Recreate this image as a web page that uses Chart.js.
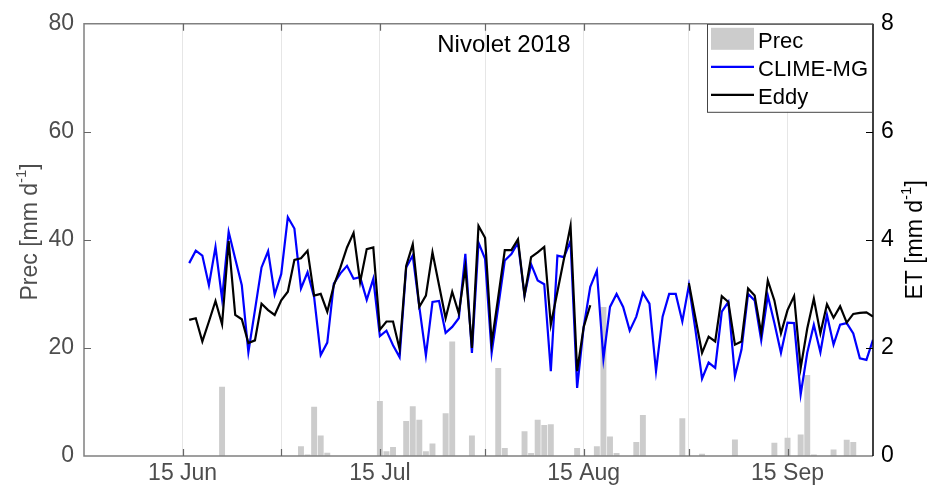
<!DOCTYPE html>
<html>
<head>
<meta charset="utf-8">
<script src="https://cdn.jsdelivr.net/npm/chart.js@4.4.0/dist/chart.umd.min.js"></script>
<style>
body { margin: 0; background: #fff; }
#wrap { width: 940px; height: 495px; }
</style>
</head>
<body>
<div id="wrap"><canvas id="myChart" width="940" height="495"></canvas></div>
<script>
// days are day-of-year 2018 (151 = 31 May)
var tickDays = [166, 181, 196, 212, 227, 243, 258];
var tickText = ['15 Jun', '', '15 Jul', '', '15 Aug', '', '15 Sep'];

// daily precipitation, mm/d (only rainy days)
var precDays = [172,184,185,186,187,188,196,197,198,200,201,202,203,204,206,207,210,214,215,218,219,220,221,222,226,229,230,231,232,235,236,242,245,250,256,258,260,261,262,265,267,268];
var precVals = [12.8,1.8,0.3,9.1,3.8,0.6,10.2,0.9,1.65,6.5,9.2,6.7,0.9,2.3,7.9,21.2,3.8,16.3,1.5,4.6,0.55,6.7,5.75,5.9,1.5,1.8,27.6,3.6,0.55,2.6,7.6,7.0,0.4,3.05,2.45,3.4,4.0,15.0,0.3,1.2,3.0,2.6];

// ET, mm/d, one value per day from day 167 (16 Jun) to 271 (28 Sep)
var etStart = 167;
var climeMG = [
  3.57,3.80,3.71,3.16,3.87,2.91,4.15,3.65,3.16,1.92,
  2.70,3.49,3.79,2.99,3.37,4.42,4.21,3.10,3.40,2.94,
  1.87,2.10,3.19,3.38,3.52,3.28,3.31,2.89,3.28,2.22,
  2.32,2.05,1.83,3.49,3.71,2.76,1.86,2.85,2.87,2.28,
  2.39,2.55,3.74,1.91,3.95,3.65,1.91,2.76,3.62,3.74,
  3.95,2.97,3.55,3.25,3.18,1.57,3.71,3.68,3.98,1.26,
  2.39,3.13,3.43,1.80,2.76,3.00,2.76,2.32,2.58,3.02,
  2.82,1.57,2.58,3.00,3.00,2.49,3.16,2.33,1.43,1.73,
  1.63,2.67,2.85,1.48,1.97,3.00,2.88,2.14,2.97,2.46,
  1.91,2.47,2.46,1.14,1.91,2.43,1.92,2.61,2.06,2.43,
  2.46,2.27,1.81,1.78,2.15
];
var eddy = [
  2.52,2.55,2.12,2.49,2.87,2.44,3.98,2.61,2.53,2.09,
  2.14,2.82,2.70,2.61,2.88,3.04,3.63,3.66,3.80,2.97,
  3.00,2.67,3.16,3.49,3.86,4.13,3.22,3.83,3.86,2.34,
  2.49,2.49,1.98,3.52,3.92,2.76,2.97,3.77,3.16,2.55,
  3.04,2.64,3.49,2.00,4.26,4.04,2.09,2.94,3.81,3.81,
  4.01,2.97,3.68,3.77,3.87,2.43,3.04,3.65,4.26,1.57,
  2.39,2.79,null,null,null,null,null,null,null,null,
  null,null,null,null,null,null,3.20,2.55,1.91,2.21,
  2.12,2.96,2.85,2.06,2.12,3.10,2.97,2.27,3.25,2.88,
  2.27,2.70,2.96,1.63,2.36,2.91,2.27,2.81,2.56,2.77,
  2.47,2.63,2.65,2.66,2.58
];

var FONT = 'Liberation Sans, Arial, sans-serif';

function pairs(start, vals) {
  var out = [];
  for (var i = 0; i < vals.length; i++) out.push({x: start + i, y: vals[i]});
  return out;
}
var precData = precDays.map(function(d, i) { return {x: d, y: precVals[i]}; });

// label with "-1" superscript, centred on 0,0 of current transform
function unitLabel(ctx, main, color) {
  var big = '23px ' + FONT, small = '15px ' + FONT;
  ctx.font = big;
  var w1 = ctx.measureText(main).width;
  var w3 = ctx.measureText(']').width;
  ctx.font = small;
  var w2 = ctx.measureText('-1').width;
  var x = -(w1 + w2 + w3) / 2;
  ctx.fillStyle = color;
  ctx.textBaseline = 'middle';
  ctx.textAlign = 'left';
  ctx.font = big;
  ctx.fillText(main, x, 0);
  ctx.font = small;
  ctx.fillText('-1', x + w1, -9);
  ctx.font = big;
  ctx.fillText(']', x + w1 + w2, 0);
}

var extras = {
  id: 'extras',
  afterDraw: function(chart) {
    var ctx = chart.ctx, a = chart.chartArea;
    var xs = chart.scales.x, yl = chart.scales.y, yr = chart.scales.y1;
    ctx.save();

    // axes box
    ctx.lineWidth = 1.5;
    ctx.strokeStyle = '#808080';
    ctx.beginPath();
    ctx.moveTo(a.right, a.top); ctx.lineTo(a.left, a.top);
    ctx.lineTo(a.left, a.bottom); ctx.lineTo(a.right, a.bottom);
    ctx.stroke();
    ctx.strokeStyle = '#000';
    ctx.beginPath();
    ctx.moveTo(a.right, a.top); ctx.lineTo(a.right, a.bottom);
    ctx.stroke();

    // inward ticks
    ctx.lineWidth = 1.2;
    ctx.strokeStyle = '#666';
    ctx.beginPath();
    tickDays.forEach(function(d) {
      var px = Math.round(xs.getPixelForValue(d)) + 0.5;
      ctx.moveTo(px, a.bottom); ctx.lineTo(px, a.bottom - 7);
      ctx.moveTo(px, a.top); ctx.lineTo(px, a.top + 7);
    });
    [20, 40, 60].forEach(function(v) {
      var py = Math.round(yl.getPixelForValue(v)) + 0.5;
      ctx.moveTo(a.left, py); ctx.lineTo(a.left + 7, py);
    });
    ctx.stroke();
    ctx.strokeStyle = '#000';
    ctx.beginPath();
    [2, 4, 6].forEach(function(v) {
      var py = Math.round(yr.getPixelForValue(v)) + 0.5;
      ctx.moveTo(a.right, py); ctx.lineTo(a.right - 7, py);
    });
    ctx.stroke();

    // title
    ctx.fillStyle = '#000';
    ctx.font = '24px ' + FONT;
    ctx.textAlign = 'center';
    ctx.textBaseline = 'middle';
    ctx.fillText('Nivolet 2018', 504, 45);

    // legend
    var lx = 707, ly = a.top;
    ctx.fillStyle = '#fff';
    ctx.fillRect(lx, ly, a.right - lx, 88);
    ctx.lineWidth = 1;
    ctx.strokeStyle = '#444';
    ctx.strokeRect(lx + 0.5, ly + 0.5, a.right - lx - 1, 88);
    ctx.fillStyle = '#cccccc';
    ctx.fillRect(711, ly + 4, 43, 22);
    ctx.lineWidth = 2.2;
    ctx.strokeStyle = '#0000ff';
    ctx.beginPath(); ctx.moveTo(711, ly + 43); ctx.lineTo(754, ly + 43); ctx.stroke();
    ctx.strokeStyle = '#000';
    ctx.beginPath(); ctx.moveTo(711, ly + 71); ctx.lineTo(754, ly + 71); ctx.stroke();
    ctx.fillStyle = '#000';
    ctx.font = '22px ' + FONT;
    ctx.textAlign = 'left';
    ctx.textBaseline = 'alphabetic';
    ctx.fillText('Prec', 758, ly + 24);
    ctx.fillText('CLIME-MG', 758, ly + 52);
    ctx.fillText('Eddy', 758, ly + 80);

    // axis titles
    var cy = (a.top + a.bottom) / 2;
    ctx.save();
    ctx.translate(31, cy - 8);
    ctx.rotate(-Math.PI / 2);
    unitLabel(ctx, 'Prec [mm d', '#4d4d4d');
    ctx.restore();
    ctx.save();
    ctx.translate(916, cy);
    ctx.rotate(-Math.PI / 2);
    unitLabel(ctx, 'ET [mm d', '#000');
    ctx.restore();

    ctx.restore();
  }
};

var ctx = document.getElementById('myChart').getContext('2d');
var myChart = new Chart(ctx, {
  type: 'bar',
  data: {
    datasets: [
      {
        type: 'line', label: 'Eddy', data: pairs(etStart, eddy), yAxisID: 'y1',
        borderColor: '#000000', borderWidth: 2.2, pointRadius: 0, tension: 0,
        spanGaps: false, order: 1
      },
      {
        type: 'line', label: 'CLIME-MG', data: pairs(etStart, climeMG), yAxisID: 'y1',
        borderColor: '#0000ff', borderWidth: 2.2, pointRadius: 0, tension: 0,
        order: 2
      },
      {
        type: 'bar', label: 'Prec', data: precData, yAxisID: 'y',
        backgroundColor: '#cccccc', borderWidth: 0,
        barPercentage: 0.9, categoryPercentage: 1.0, order: 3
      }
    ]
  },
  options: {
    responsive: false,
    animation: false,
    devicePixelRatio: 1,
    layout: { padding: { top: 19, left: 0, right: 0, bottom: 0 } },
    plugins: { legend: { display: false }, tooltip: { enabled: false } },
    scales: {
      x: {
        type: 'linear', min: 151, max: 271, offset: false,
        afterBuildTicks: function(scale) {
          scale.ticks = tickDays.map(function(d) { return {value: d}; });
        },
        afterFit: function(scale) { scale.height = 39; },
        grid: { color: '#e6e6e6', lineWidth: 1, drawTicks: false, offset: false },
        border: { display: false },
        ticks: {
          autoSkip: false, maxRotation: 0, padding: 4,
          color: '#4d4d4d', font: { family: FONT, size: 23 },
          callback: function(v) {
            var i = tickDays.indexOf(v);
            return i >= 0 ? tickText[i] : '';
          }
        }
      },
      y: {
        position: 'left', min: 0, max: 80,
        afterFit: function(scale) { scale.width = 84; },
        grid: { display: false, drawTicks: false },
        border: { display: false },
        ticks: { stepSize: 20, padding: 10, color: '#4d4d4d', font: { family: FONT, size: 23 } }
      },
      y1: {
        position: 'right', min: 0, max: 8,
        afterFit: function(scale) { scale.width = 67; },
        grid: { display: false, drawTicks: false },
        border: { display: false },
        ticks: { stepSize: 2, padding: 8, color: '#000', font: { family: FONT, size: 23 } }
      }
    }
  },
  plugins: [extras]
});
</script>
</body>
</html>
